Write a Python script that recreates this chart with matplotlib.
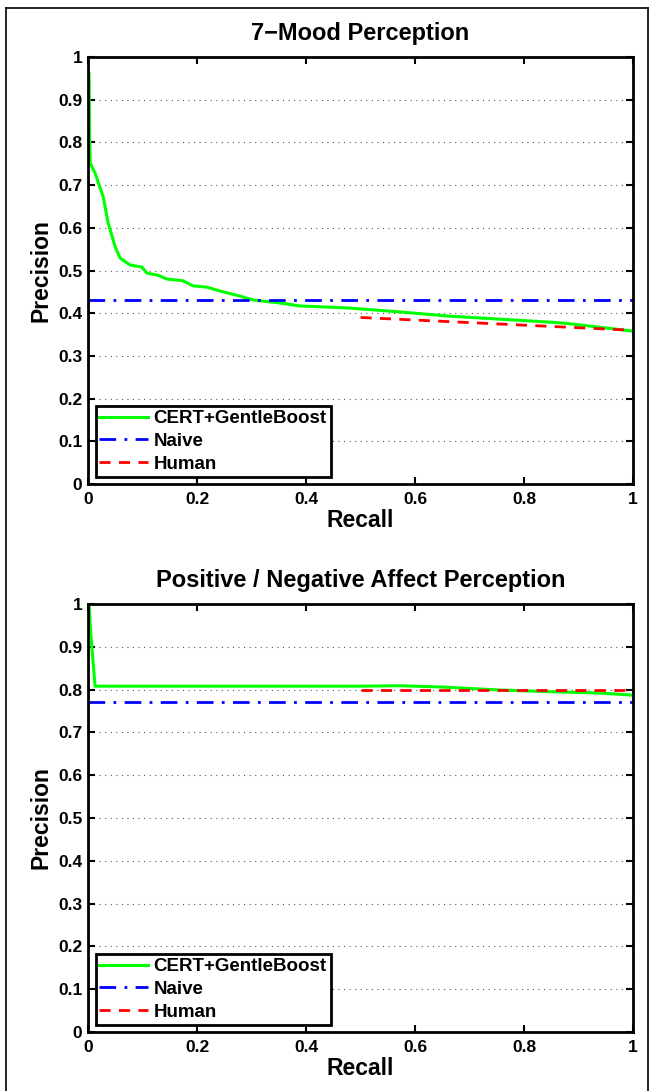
import numpy as np
import matplotlib
matplotlib.use('Agg')
import matplotlib.pyplot as plt
from matplotlib.lines import Line2D

plt.rcParams['font.family'] = ['Liberation Sans', 'DejaVu Sans']
plt.rcParams['font.weight'] = 'bold'

# --- 7-Mood Perception ---
mood_recall = [0.002, 0.003, 0.004, 0.013, 0.028, 0.037, 0.05, 0.059, 0.077, 0.099,
               0.108, 0.128, 0.145, 0.174, 0.193, 0.218, 0.242, 0.279, 0.303, 0.352,
               0.389, 0.48, 0.572, 0.664, 0.756, 0.848, 0.879, 1.0]
mood_precision = [0.962, 0.80, 0.752, 0.728, 0.672, 0.611, 0.555, 0.529, 0.513, 0.508,
                  0.494, 0.489, 0.480, 0.476, 0.464, 0.461, 0.452, 0.440, 0.431, 0.424,
                  0.417, 0.412, 0.403, 0.393, 0.386, 0.379, 0.376, 0.358]
mood_naive = 0.43
mood_human_recall = [0.5, 1.0]
mood_human_precision = [0.39, 0.36]

# --- Positive / Negative Affect Perception ---
pn_recall = [0.002, 0.004, 0.007, 0.013, 0.1, 0.3, 0.5, 0.572, 0.65, 0.756, 0.85, 0.939, 1.0]
pn_precision = [1.0, 0.95, 0.90, 0.808, 0.808, 0.808, 0.808, 0.809, 0.806, 0.799, 0.795, 0.792, 0.787]
pn_naive = 0.77
pn_human_recall = [0.5, 1.0]
pn_human_precision = [0.80, 0.80]

x_ticks = [0, 0.2, 0.4, 0.6, 0.8, 1]
x_labels = ['0', '0.2', '0.4', '0.6', '0.8', '1']
y_ticks = [0, 0.1, 0.2, 0.3, 0.4, 0.5, 0.6, 0.7, 0.8, 0.9, 1]
y_labels = ['0', '0.1', '0.2', '0.3', '0.4', '0.5', '0.6', '0.7', '0.8', '0.9', '1']

W, H = 653, 1091
fig = plt.figure(figsize=(W / 100, H / 100), dpi=100)

# outer frame
fig.add_artist(Line2D([6 / W, 6 / W], [0, 1 - 8 / H], transform=fig.transFigure, color='k', lw=1.2))
fig.add_artist(Line2D([6 / W, 648 / W], [1 - 8 / H, 1 - 8 / H], transform=fig.transFigure, color='k', lw=1.2))
fig.add_artist(Line2D([648 / W, 648 / W], [0, 1 - 8 / H], transform=fig.transFigure, color='k', lw=1.2))

ax1 = fig.add_axes([88 / W, 1 - 484 / H, 545 / W, 427 / H])
ax2 = fig.add_axes([88 / W, 1 - 1032 / H, 545 / W, 428 / H])


def draw(ax, rec, prec, naive, hr, hp, title):
    ax.plot(rec, prec, color='#00ff00', lw=2.2, label='CERT+GentleBoost')
    ax.plot([0, 1], [naive, naive], color='#0000ff', lw=2, ls=(0, (6, 3, 1, 3)), label='Naive')
    ax.plot(hr, hp, color='#ff0000', lw=2, ls=(0, (4, 3)), label='Human')
    ax.set_xlim(0, 1)
    ax.set_ylim(0, 1)
    ax.set_xticks(x_ticks)
    ax.set_xticklabels(x_labels)
    ax.set_yticks(y_ticks)
    ax.set_yticklabels(y_labels)
    ax.tick_params(direction='in', top=True, right=True, length=5, width=1.5,
                   labelsize=12.5)
    ax.tick_params(axis='x', pad=6)
    ax.tick_params(axis='y', pad=4)
    for lab in ax.get_xticklabels() + ax.get_yticklabels():
        lab.set_fontweight('bold')
    ax.yaxis.grid(True, ls=(0, (1, 4)), color='#555555', lw=0.8)
    for s in ax.spines.values():
        s.set_linewidth(2)
    ax.set_xlabel('Recall', fontsize=16.5, fontweight='bold', labelpad=1)
    ax.set_ylabel('Precision', fontsize=16.5, fontweight='bold', labelpad=4)
    ax.set_title(title, fontsize=17, fontweight='bold', pad=12)
    leg = ax.legend(loc='lower left', fontsize=13.5, frameon=True, fancybox=False,
                    borderpad=0.2, handlelength=2.6, handletextpad=0.3,
                    labelspacing=0.3, borderaxespad=0.4)
    leg.get_frame().set_edgecolor('k')
    leg.get_frame().set_linewidth(2)
    leg.get_frame().set_alpha(1)
    for t in leg.get_texts():
        t.set_fontweight('bold')


draw(ax1, mood_recall, mood_precision, mood_naive, mood_human_recall, mood_human_precision,
     '7\u2212Mood Perception')
draw(ax2, pn_recall, pn_precision, pn_naive, pn_human_recall, pn_human_precision,
     'Positive / Negative Affect Perception')

fig.savefig('out.png', dpi=100)
